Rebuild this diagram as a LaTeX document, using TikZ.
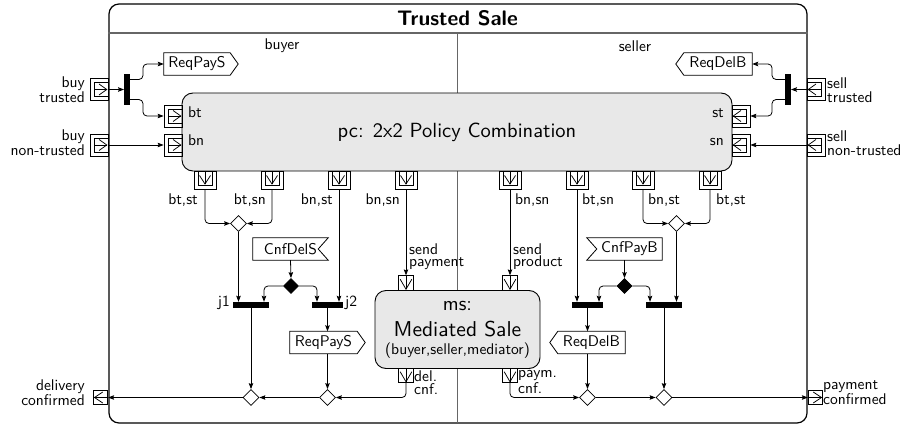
\documentclass[tikz,border=0pt]{standalone}
\usepackage{fontspec}
\setsansfont{lmsans10-regular.otf}[BoldFont=lmsans10-bold.otf]
\usetikzlibrary{arrows.meta,shapes.geometric}
\newcommand\fsz[1]{\fontsize{#1}{#1}\selectfont}
\newcommand\sigSendE[1]{\draw[line width=0.8pt] (#1.north west) -- (#1.north east) -- ([xshift=8pt]#1.east) -- (#1.south east) -- (#1.south west) -- cycle;}
\newcommand\sigSendW[1]{\draw[line width=0.8pt] (#1.north east) -- (#1.north west) -- ([xshift=-8pt]#1.west) -- (#1.south west) -- (#1.south east) -- cycle;}
\newcommand\sigAcceptE[1]{\draw[line width=0.8pt] (#1.north west) -- (#1.north east) -- ([xshift=-10pt]#1.east) -- (#1.south east) -- (#1.south west) -- cycle;}
\newcommand\sigAcceptW[1]{\draw[line width=0.8pt] (#1.north east) -- (#1.north west) -- ([xshift=10pt]#1.west) -- (#1.south west) -- (#1.south east) -- cycle;}
\begin{document}
\begin{tikzpicture}[x=1pt,y=-1pt,
  font=\sffamily\fontsize{15.5}{13.5}\selectfont,
  conn/.style={line width=0.8pt, rounded corners=4pt, -{Stealth[length=6pt,width=4.5pt,inset=1pt]}},
  bar/.style={rectangle, fill=black, draw=none, inner sep=0pt},
  vbar/.style={bar, minimum width=5.5pt, minimum height=31pt},
  hbar/.style={bar, minimum height=6pt},
  merge/.style={diamond, draw, fill=white, line width=0.8pt, inner sep=0pt, minimum width=16pt, minimum height=16pt},
  decide/.style={merge, fill=black, minimum width=15pt, minimum height=15pt},
  act/.style={rectangle, draw, line width=0.9pt, fill=black!9, rounded corners=11pt, inner sep=0pt},
  sigbox/.style={rectangle, draw=none, inner sep=0pt, minimum height=22pt},
  lab/.style={inner sep=0pt},
  pinl/.style={line width=0.75pt},
  spinE/.style={rectangle, draw, pinl, inner sep=0pt, minimum width=18pt, minimum height=22pt,
    path picture={
      \coordinate (q) at (path picture bounding box.east);
      \draw[pinl] ([shift={(-14pt,-7pt)}]q) rectangle ([shift={(0pt,7pt)}]q);
      \draw[pinl] ([xshift=-14pt]q) -- ([xshift=-1.2pt]q);
      \draw[pinl] ([shift={(-9pt,5.5pt)}]q) -- ([xshift=-1.2pt]q) -- ([shift={(-9pt,-5.5pt)}]q);
    }},
  spinW/.style={rectangle, draw, pinl, inner sep=0pt, minimum width=18pt, minimum height=22pt,
    path picture={
      \coordinate (q) at (path picture bounding box.west);
      \draw[pinl] ([shift={(14pt,-7pt)}]q) rectangle ([shift={(0pt,7pt)}]q);
      \draw[pinl] ([xshift=14pt]q) -- ([xshift=1.2pt]q);
      \draw[pinl] ([shift={(9pt,5.5pt)}]q) -- ([xshift=1.2pt]q) -- ([shift={(9pt,-5.5pt)}]q);
    }},
  spinS/.style={rectangle, draw, pinl, inner sep=0pt, minimum width=22pt, minimum height=18pt,
    path picture={
      \coordinate (q) at (path picture bounding box.north);
      \draw[pinl] ([shift={(-7pt,0pt)}]q) rectangle ([shift={(7pt,-14pt)}]q);
      \draw[pinl] (q) -- ([yshift=-13pt]q);
      \draw[pinl] ([shift={(-5.5pt,-4.5pt)}]q) -- ([yshift=-13pt]q) -- ([shift={(5.5pt,-4.5pt)}]q);
    }},
  pinS/.style={rectangle, draw, pinl, inner sep=0pt, minimum width=14.5pt, minimum height=14.5pt,
    path picture={
      \coordinate (q) at (path picture bounding box.north);
      \draw[pinl] (q) -- ([yshift=-13.5pt]q);
      \draw[pinl] ([shift={(-5.8pt,-3.5pt)}]q) -- ([yshift=-13.5pt]q) -- ([shift={(5.8pt,-3.5pt)}]q);
    }},
  pinW/.style={rectangle, draw, pinl, inner sep=0pt, minimum width=14.5pt, minimum height=14.5pt,
    path picture={
      \coordinate (q) at (path picture bounding box.west);
      \draw[pinl] ([xshift=14.5pt]q) -- ([xshift=1.2pt]q);
      \draw[pinl] ([shift={(9.5pt,5.5pt)}]q) -- ([xshift=1.2pt]q) -- ([shift={(9.5pt,-5.5pt)}]q);
    }},
  pinE/.style={rectangle, draw, pinl, inner sep=0pt, minimum width=14.5pt, minimum height=14.5pt,
    path picture={
      \coordinate (q) at (path picture bounding box.east);
      \draw[pinl] ([xshift=-14.5pt]q) -- ([xshift=-1.2pt]q);
      \draw[pinl] ([shift={(-9.5pt,5.5pt)}]q) -- ([xshift=-1.2pt]q) -- ([shift={(-9.5pt,-5.5pt)}]q);
    }},
]
\useasboundingbox (0,0) rectangle (904,425);

% container
\node[rectangle, draw, line width=1.2pt, rounded corners=10pt, minimum width=698pt, minimum height=419pt, inner sep=0pt] (frame) at (458,213.5) {};
\draw[line width=1.2pt, black!60] (frame.west |- 0,33) -- (frame.east |- 0,33);
\coordinate (divtop) at (457,33);
\coordinate (divbot) at (457,423);
\draw[line width=0.9pt, black!60] (divtop) -- (divbot);
\node[font=\sffamily\bfseries\fsz{21}] (title) at (457.5,18) {Trusted Sale};
\node[lab] (buyer) at (282,46) {buyer};
\node[lab] (seller) at (635,46) {seller};

% actions
\node[act, minimum width=550pt, minimum height=78pt, font=\sffamily\fsz{20.5}] (pc) at (457,132) {pc: 2x2 Policy Combination};
\node[act, minimum width=165pt, minimum height=78pt, align=center, font=\sffamily\fontsize{21.5}{26}\selectfont] (ms) at (457.5,329.5) {{\fsz{20}ms:}\\Mediated Sale\\[-8pt]{\fsz{15.5}(buyer,seller,mediator)}};

% stream pins
\node[spinE] (buyT) at (99,89.5) {};
\node[spinE] (buyN) at (99,145) {};
\node[spinW] (sellT) at (816,89.5) {};
\node[spinW] (sellN) at (816,145) {};
\node[spinE] (bt) at (173,116) {};
\node[spinE] (bn) at (173,145) {};
\node[spinW] (st) at (741,116) {};
\node[spinW] (sn) at (741,145) {};
\foreach \i/\x in {1/205,2/272,3/339,4/406,5/510,6/577,7/643,8/710}
  \node[spinS] (p\i) at (\x,180) {};

% simple pins
\node[pinS] (sp) at (406,283) {};
\node[pinS] (spr) at (510,283) {};
\node[pinS] (dc) at (406,375.5) {};
\node[pinS] (pcf) at (510,375.5) {};
\node[pinW] (dconf) at (100.5,397.5) {};
\node[pinE] (pconf) at (815.5,397.5) {};

% pin labels
\node[lab, anchor=base west] (lbt) at (188,117.5) {bt};
\node[lab, anchor=base west] (lbn) at (188,146) {bn};
\node[lab, anchor=base east] (lst) at (724,117.5) {st};
\node[lab, anchor=base east] (lsn) at (724,146) {sn};
\node[lab, anchor=base east] (l1) at (198,204) {bt,st};
\node[lab, anchor=base east] (l2) at (266,204) {bt,sn};
\node[lab, anchor=base east] (l3) at (333,204) {bn,st};
\node[lab, anchor=base east] (l4) at (400,204) {bn,sn};
\node[lab, anchor=base west] (l5) at (515,204) {bn,sn};
\node[lab, anchor=base west] (l6) at (582,204) {bt,sn};
\node[lab, anchor=base west] (l7) at (648,204) {bn,st};
\node[lab, anchor=base west] (l8) at (716,204) {bt,st};
\node[lab, anchor=east, align=right] (lbuyT) at (85,90) {buy\\trusted};
\node[lab, anchor=east, align=right] (lbuyN) at (85,143) {buy\\non-trusted};
\node[lab, anchor=west, align=left] (lsellT) at (827,90) {sell\\trusted};
\node[lab, anchor=west, align=left] (lsellN) at (827,143) {sell\\non-trusted};
\node[lab, anchor=east, align=right] (ldconf) at (85,393) {delivery\\confirmed};
\node[lab, anchor=west, align=left] (lpconf) at (823,393) {payment\\confirmed};
\node[lab, anchor=west, align=left, font=\sffamily\fontsize{15.5}{12}\selectfont] (lsp) at (409,256.5) {send\\payment};
\node[lab, anchor=west, align=left, font=\sffamily\fontsize{15.5}{12}\selectfont] (lspr) at (513,256.5) {send\\product};
\node[lab, anchor=west, align=left, font=\sffamily\fontsize{15.5}{13}\selectfont] (ldc) at (414,383) {del.\\cnf.};
\node[lab, anchor=west, align=left, font=\sffamily\fontsize{15.5}{13}\selectfont] (lpcf) at (518,382) {paym.\\cnf.};

% bars
\node[vbar] (fb) at (127,89.5) {};
\node[vbar] (fs) at (788,89.5) {};
\node[hbar, minimum width=36pt] (j1) at (251,305) {};
\node[hbar, minimum width=31pt] (j2) at (327.5,305) {};
\node[hbar, minimum width=31pt] (j3) at (587.5,305) {};
\node[hbar, minimum width=36pt] (j4) at (664,305) {};
\node[lab, anchor=base east] (lj1) at (230,306.5) {j1};
\node[lab, anchor=base west] (lj2) at (345,306.5) {j2};

% diamonds
\node[merge] (mB) at (238.5,223.5) {};
\node[merge] (mS) at (676.5,223.5) {};
\node[decide] (dB) at (291,286) {};
\node[decide] (dS) at (624.5,286) {};
\node[merge] (m1) at (251,397.5) {};
\node[merge] (m2) at (327.5,397.5) {};
\node[merge] (m3) at (587.5,397.5) {};
\node[merge] (m4) at (664,397.5) {};

% signals
\node[sigbox, minimum width=66pt] (rpsT) at (197,64) {ReqPayS};
\sigSendE{rpsT}
\node[sigbox, minimum width=68pt] (rdbT) at (718,64) {ReqDelB\hspace{6pt}};
\sigSendW{rdbT}
\node[sigbox, minimum width=67pt] (rpsB) at (323.5,342.5) {ReqPayS};
\sigSendE{rpsB}
\node[sigbox, minimum width=67pt] (rdbB) at (591.5,342.5) {ReqDelB\hspace{6pt}};
\sigSendW{rdbB}
\node[sigbox, minimum width=75pt] (cds) at (290.5,249) {CnfDelS\hspace{10pt}};
\sigAcceptE{cds}
\node[sigbox, minimum width=75pt] (cpb) at (624.5,249) {\hspace{10pt}CnfPayB};
\sigAcceptW{cpb}

% connectors
\draw[conn] (buyT.east) -- (fb.west);
\draw[conn] ([yshift=10pt]fb.east) -- ++(13,0) |- (rpsT.west);
\draw[conn] ([yshift=-10pt]fb.east) -- ++(13,0) |- (bt.west);
\draw[conn] (buyN.east) -- (bn.west);
\draw[conn] (sellT.west) -- (fs.east);
\draw[conn] ([yshift=10pt]fs.west) -- ++(-13,0) |- (rdbT.east);
\draw[conn] ([yshift=-10pt]fs.west) -- ++(-13,0) |- (st.east);
\draw[conn] (sellN.west) -- (sn.east);

\draw[conn] (p1.south) |- (mB.west);
\draw[conn] (p2.south) |- (mB.east);
\draw[conn] (p3.south) -- (p3.south |- j2.north);
\draw[conn] (p4.south) -- (sp.north);
\draw[conn] (p5.south) -- (spr.north);
\draw[conn] (p6.south) -- (p6.south |- j3.north);
\draw[conn] (p7.south) |- (mS.west);
\draw[conn] (p8.south) |- (mS.east);

\draw[conn] (mB.south) -- (mB.south |- j1.north);
\draw[conn] (mS.south) -- (mS.south |- j4.north);
\draw[conn] (cds.south) -- (dB.north);
\draw[conn] (cpb.south) -- (dS.north);
\draw[conn] (dB.west) -| ([xshift=13pt]j1.north);
\draw[conn] (dB.east) -| ([xshift=-10.5pt]j2.north);
\draw[conn] (dS.west) -| ([xshift=11.5pt]j3.north);
\draw[conn] (dS.east) -| ([xshift=-14pt]j4.north);

\draw[conn] (j1.south) -- (m1.north);
\draw[conn] (j2.south) -- (j2.south |- rpsB.north);
\draw[conn] (m2.north |- rpsB.south) -- (m2.north);
\draw[conn] (j3.south) -- (j3.south |- rdbB.north);
\draw[conn] (m3.north |- rdbB.south) -- (m3.north);
\draw[conn] (j4.south) -- (m4.north);
\draw[conn] (dc.south) |- (m2.east);
\draw[conn] (m2.west) -- (m1.east);
\draw[conn] (m1.west) -- (dconf.east);
\draw[conn] (pcf.south) |- (m3.west);
\draw[conn] (m3.east) -- (m4.west);
\draw[conn] (m4.east) -- (pconf.west);
\end{tikzpicture}
\end{document}
